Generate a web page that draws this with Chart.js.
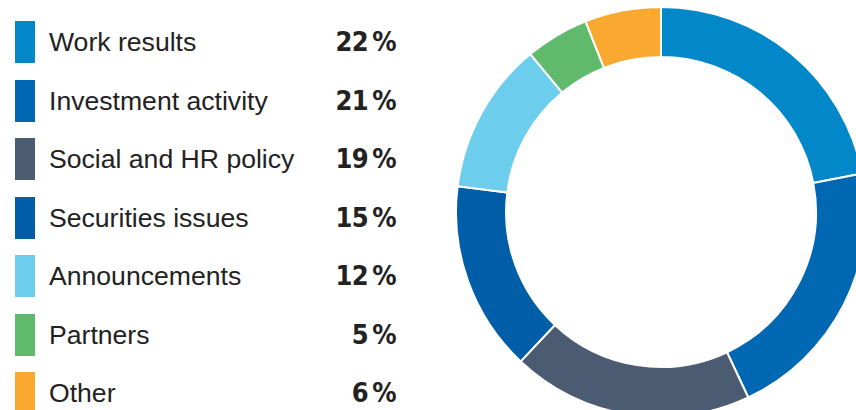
<!DOCTYPE html>
<html>
<head>
<meta charset="utf-8">
<script src="https://cdn.jsdelivr.net/npm/chart.js@4/dist/chart.umd.min.js"></script>
<style>
  html, body { margin: 0; padding: 0; background: #fff; width: 856px; height: 410px; overflow: hidden; }
  #legend { position: absolute; left: 0; top: 0; width: 420px; height: 410px; }
  .row { position: absolute; left: 0; width: 400px; height: 42px; }
  .swatch { position: absolute; left: 15px; top: 0; width: 20px; height: 42px; }
  .label { position: absolute; left: 49px; top: 0; line-height: 42px; font-family: "Liberation Sans", Arial, sans-serif; font-size: 26.6px; color: #222; white-space: nowrap; }
  .pct { position: absolute; right: 4px; top: 0; line-height: 42px; font-family: "Liberation Sans Narrow", "DejaVu Sans Condensed", "Liberation Sans", sans-serif; font-stretch: condensed; font-weight: bold; font-size: 27px; letter-spacing: -0.6px; color: #222; white-space: nowrap; }
  #chartBox { position: absolute; left: 455px; top: 6px; width: 412px; height: 412px; }
</style>
</head>
<body>
<div id="legend"></div>
<div id="chartBox"><canvas id="topicChart" width="412" height="412"></canvas></div>
<script>
// Темы публикаций, доли в процентах
const topics = ["Work results", "Investment activity", "Social and HR policy", "Securities issues", "Announcements", "Partners", "Other"];
const shares = [22, 21, 19, 15, 12, 5, 6];
const topicColors = ["#0288c9", "#0067b2", "#4b5b71", "#005da8", "#6dcdec", "#5fbb6b", "#f9a930"];

// ========== Легенда слева ==========
const legend = document.getElementById("legend");
for (let i = 0; i < topics.length; i++) {
    const row = document.createElement("div");
    row.className = "row";
    row.style.top = (21 + i * 58.5) + "px";
    row.innerHTML = `
        <div class="swatch" style="background:${topicColors[i]}"></div>
        <div class="label">${topics[i]}</div>
        <div class="pct">${shares[i]}\u2009%</div>`;
    legend.appendChild(row);
}

// ========== Кольцевая диаграмма ==========
new Chart(document.getElementById("topicChart"), {
    type: "doughnut",
    data: {
        labels: topics,
        datasets: [{
            data: shares,
            backgroundColor: topicColors,
            borderColor: "#ffffff",
            borderWidth: 2
        }]
    },
    options: {
        responsive: false,
        animation: false,
        cutout: "75.6%",
        layout: { padding: 0 },
        plugins: {
            legend: { display: false },
            tooltip: { enabled: false }
        }
    }
});
</script>
</body>
</html>
